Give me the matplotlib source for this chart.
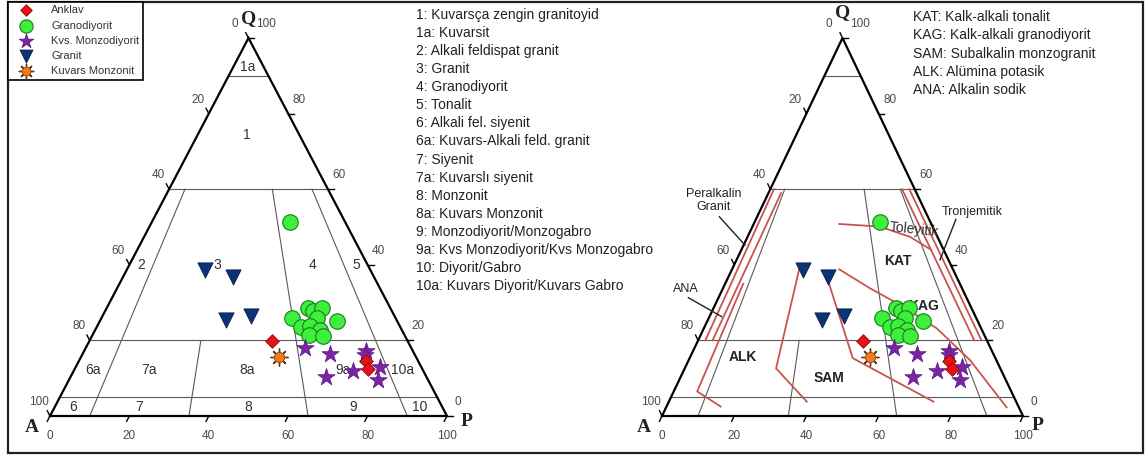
import matplotlib
matplotlib.use('Agg')
import matplotlib.pyplot as plt
from matplotlib.legend_handler import HandlerTuple
from matplotlib.patches import Rectangle

plt.rcParams['font.family'] = ['Liberation Sans', 'DejaVu Sans']

# ---------------- data: Q and P percentages (A = 100 - Q - P) ----------------
granit_Q = [38.6, 36.9, 25.4, 26.5]
granit_P = [19.7, 27.6, 31.6, 37.3]

grd_Q = [51.4, 25.8, 23.6, 28.5, 27.8, 28.5, 25.8, 23.9, 22.8, 21.4, 21.2, 25.1]
grd_P = [34.7, 48.1, 51.4, 50.7, 52.4, 54.2, 54.3, 53.5, 56.6, 54.6, 58.1, 59.7]

ank_Q = [19.8, 14.6, 12.4]
ank_P = [45.9, 72.2, 74.0]

kmd_Q = [17.9, 16.4, 17.2, 16.2, 10.2, 11.9, 13.0, 9.5]
kmd_P = [55.3, 62.3, 70.9, 71.3, 64.3, 70.3, 76.6, 77.8]

kmz_Q = [15.5]
kmz_P = [50.0]

legend_labels = ['Anklav', 'Granodiyorit', 'Kvs. Monzodiyorit', 'Granit', 'Kuvars Monzonit']

# QAP field boundaries
q_levels = [90, 60, 20, 5]
radial_ratio = [0.10, 0.35, 0.65, 0.90]
radial_qtop = [60, 20, 60, 60]

field_names = ['1a', '1', '2', '3', '4', '5', '6a', '7a', '8a', '9a', '10a',
               '6', '7', '8', '9', '10']

field_list = ['1: Kuvarsça zengin granitoyid', '1a: Kuvarsit', '2: Alkali feldispat granit',
              '3: Granit', '4: Granodiyorit', '5: Tonalit', '6: Alkali fel. siyenit',
              '6a: Kuvars-Alkali feld. granit', '7: Siyenit', '7a: Kuvarslı siyenit',
              '8: Monzonit', '8a: Kuvars Monzonit', '9: Monzodiyorit/Monzogabro',
              '9a: Kvs Monzodiyorit/Kvs Monzogabro', '10: Diyorit/Gabro',
              '10a: Kuvars Diyorit/Kuvars Gabro']

series_list = ['KAT: Kalk-alkali tonalit', 'KAG: Kalk-alkali granodiyorit',
               'SAM: Subalkalin monzogranit', 'ALK: Alümina potasik', 'ANA: Alkalin sodik']

# Lameyre & Bowden trend lines (right diagram)
peralk1_Q = [60, 20]; peralk1_P = [1.0, 2.0]
peralk2_Q = [59, 20]; peralk2_P = [3.5, 4.0]
ana_Q = [35, 6.5, 2.5]; ana_P = [5.0, 6.5, 15.0]
tron1_Q = [60, 20]; tron1_A = [1.5, 1.5]
tron2_Q = [60, 20]; tron2_A = [3.5, 3.5]
toley_Q = [50.8, 50.1, 47.4, 44.0]; toley_P = [23.7, 35.3, 45.0, 52.5]
kag_Q = [38.8, 33.8, 28.9, 23.2, 14.8, 2.3]; kag_P = [29.7, 40.7, 52.4, 64.5, 77.9, 94.3]
sam_Q = [37.0, 15.3, 3.8]; sam_P = [27.1, 45.2, 73.3]
alk_Q = [38.8, 12.6, 3.8]; alk_P = [18.6, 25.3, 38.2]

tick_vals = [0, 20, 40, 60, 80, 100]

# ---------------------------------------------------------------------------
W, H = 1146, 457
fig = plt.figure(figsize=(W / 100, H / 100), dpi=100)


def tern(Q, P):
    return [p + q / 2.0 for q, p in zip(Q, P)], list(Q)


def add_tern_axes(pl, pr, pt, pb):
    ax = fig.add_axes([pl / W, 1 - pb / H, (pr - pl) / W, (pb - pt) / H])
    ax.set_xlim(0, 100)
    ax.set_ylim(0, 100)
    ax.axis('off')
    return ax


axL = add_tern_axes(50, 447, 38, 416)
axR = add_tern_axes(662, 1023, 38, 416)

grid_c = '#5a5a5a'
tick_c = '#4a4a4a'


def draw_frame(ax, corner_pos):
    ax.plot([0, 100, 50, 0], [0, 0, 100, 0], color='black', lw=1.6,
            clip_on=False, zorder=3, solid_joinstyle='miter')
    for q in q_levels:
        ax.plot([q / 2.0, 100 - q / 2.0], [q, q], color=grid_c, lw=0.8, zorder=1)
    for r, qt in zip(radial_ratio, radial_qtop):
        x, y = tern([qt, 0], [r * (100 - qt), r * 100])
        ax.plot(x, y, color=grid_c, lw=0.8, zorder=1)
    for v in tick_vals:
        # bottom axis (P)
        ax.plot([v, v - 0.7], [0, -1.4], color='black', lw=1.0, clip_on=False)
        ax.annotate(str(v), (v, 0), xytext=(0, -20), textcoords='offset pixels',
                    ha='center', va='center', fontsize=8.5, color=tick_c, annotation_clip=False)
        # left axis (A)
        q = 100 - v
        ax.plot([q / 2, q / 2 - 0.7], [q, q + 1.4], color='black', lw=1.0, clip_on=False)
        dx = -14 if v == 0 else -11
        ax.annotate(str(v), (q / 2, q), xytext=(dx, 14), textcoords='offset pixels',
                    ha='center', va='center', fontsize=8.5, color=tick_c, annotation_clip=False)
        # right axis (Q)
        ax.plot([100 - v / 2, 100 - v / 2 + 1.5], [v, v], color='black', lw=1.0, clip_on=False)
        dx = 17 if v == 100 else 11
        ax.annotate(str(v), (100 - v / 2, v), xytext=(dx, 14), textcoords='offset pixels',
                    ha='center', va='center', fontsize=8.5, color=tick_c, annotation_clip=False)
    qx, qy, ax_, ay, px_, py = corner_pos
    kw = dict(fontsize=14, fontweight='bold', family=['Liberation Serif', 'DejaVu Serif'],
              ha='center', va='center', color='#222222', zorder=6)
    ax.annotate('Q', (50, 100), xytext=(qx, qy), textcoords='offset pixels',
                annotation_clip=False, **kw)
    ax.annotate('A', (0, 0), xytext=(ax_, ay), textcoords='offset pixels',
                annotation_clip=False, **kw)
    ax.annotate('P', (100, 0), xytext=(px_, py), textcoords='offset pixels',
                annotation_clip=False, **kw)


draw_frame(axL, (0, 19, -18, -12, 20, -6))
draw_frame(axR, (0, 25, -18, -11, 15, -10))


def plot_points(ax):
    hs = []
    x, y = tern(ank_Q, ank_P)
    hs.append(ax.scatter(x, y, marker='D', s=48, c='#e3121b', edgecolors='#a00000',
                         linewidths=0.6, zorder=7))
    x, y = tern(grd_Q, grd_P)
    hs.append(ax.scatter(x, y, marker='o', s=125, c='#3ef03e', edgecolors='#1c7a1c',
                         linewidths=0.8, zorder=5))
    x, y = tern(kmd_Q, kmd_P)
    hs.append(ax.scatter(x, y, marker='*', s=170, c='#7b25a5', edgecolors='#55177a',
                         linewidths=0.5, zorder=6))
    x, y = tern(granit_Q, granit_P)
    hs.append(ax.scatter(x, y, marker='v', s=120, c='#0b3378', edgecolors='#06204d',
                         linewidths=0.6, zorder=5))
    x, y = tern(kmz_Q, kmz_P)
    h1 = ax.scatter(x, y, marker=(8, 2, 0), s=150, c='#6b3a12', linewidths=1.0, zorder=6)
    h2 = ax.scatter(x, y, marker='o', s=55, c='#f07a1e', edgecolors='#8a4a1a',
                    linewidths=0.6, zorder=7)
    hs.append((h1, h2))
    return hs


handles = plot_points(axL)
plot_points(axR)

# field numbers on left diagram (positions in plot coordinates)
field_xy = [(49.9, 92.3), (49.6, 74.3), (22.9, 39.9), (42.1, 39.9), (66.2, 39.9),
            (77.1, 39.9), (10.8, 12.2), (24.9, 12.2), (49.6, 12.2), (73.8, 12.2),
            (88.9, 12.2), (5.8, 2.4), (22.4, 2.4), (49.9, 2.4), (76.3, 2.4), (93.2, 2.4)]
for name, (x, y) in zip(field_names, field_xy):
    axL.text(x, y, name, ha='center', va='center', fontsize=10, color='#333333', zorder=2)

# trend lines on right diagram
red = '#c9544e'
for Qs, Ps in [(peralk1_Q, peralk1_P), (peralk2_Q, peralk2_P), (ana_Q, ana_P),
               (toley_Q, toley_P), (kag_Q, kag_P), (sam_Q, sam_P), (alk_Q, alk_P)]:
    x, y = tern(Qs, Ps)
    axR.plot(x, y, color=red, lw=1.3, zorder=2)
for Qs, As in [(tron1_Q, tron1_A), (tron2_Q, tron2_A)]:
    Ps = [100 - q - a for q, a in zip(Qs, As)]
    x, y = tern(Qs, Ps)
    axR.plot(x, y, color=red, lw=1.3, zorder=2)

bkw = dict(ha='center', va='center', fontsize=10, fontweight='bold', color='#222222', zorder=4)
axR.text(65.2, 41.0, 'KAT', **bkw)
axR.text(72.4, 29.1, 'KAG', **bkw)
axR.text(22.5, 15.5, 'ALK', **bkw)
axR.text(46.3, 10.1, 'SAM', **bkw)
nkw = dict(ha='center', va='center', fontsize=9, color='#222222', zorder=4)
axR.text(70.0, 49.2, 'Toleyitik', rotation=-6, fontsize=10, ha='center', va='center',
         color='#333333', zorder=4)
axR.text(86.0, 54.0, 'Tronjemitik', **nkw)
axR.text(14.3, 57.1, 'Peralkalin\nGranit', linespacing=1.1, **nkw)
axR.text(6.6, 33.6, 'ANA', **nkw)
axR.plot([81.4, 77.0], [52.0, 41.3], color='#222222', lw=1.0, zorder=4)
axR.plot([15.9, 23.0], [52.7, 45.2], color='#222222', lw=1.0, zorder=4)
axR.plot([7.3, 16.5], [31.3, 26.3], color='#222222', lw=1.0, zorder=4)

# explanatory lists
for i, t in enumerate(field_list):
    fig.text(416 / W, 1 - (15 + 18.07 * i) / H, t, ha='left', va='center',
             fontsize=10, color='#222222')
for i, t in enumerate(series_list):
    fig.text(913 / W, 1 - (17 + 18.3 * i) / H, t, ha='left', va='center',
             fontsize=10, color='#222222')

# legend
leg = fig.legend(handles, legend_labels, loc='upper left', bbox_to_anchor=(8 / W, 1 - 2 / H),
                 frameon=True, fancybox=False, edgecolor='black', fontsize=8,
                 handlelength=2.6, handletextpad=1.0, borderpad=0.3, labelspacing=0.47,
                 borderaxespad=0, framealpha=1, markerscale=0.85,
                 handler_map={tuple: HandlerTuple(ndivide=1, pad=0)})
leg.get_frame().set_linewidth(1.2)
for t in leg.get_texts():
    t.set_color('#333333')

# outer frame
fig.patches.append(Rectangle((8 / W, 1 - 453 / H), 1135 / W, 451 / H, transform=fig.transFigure,
                             fill=False, edgecolor='#222222', lw=1.6))

fig.savefig('out.png', dpi=100)
